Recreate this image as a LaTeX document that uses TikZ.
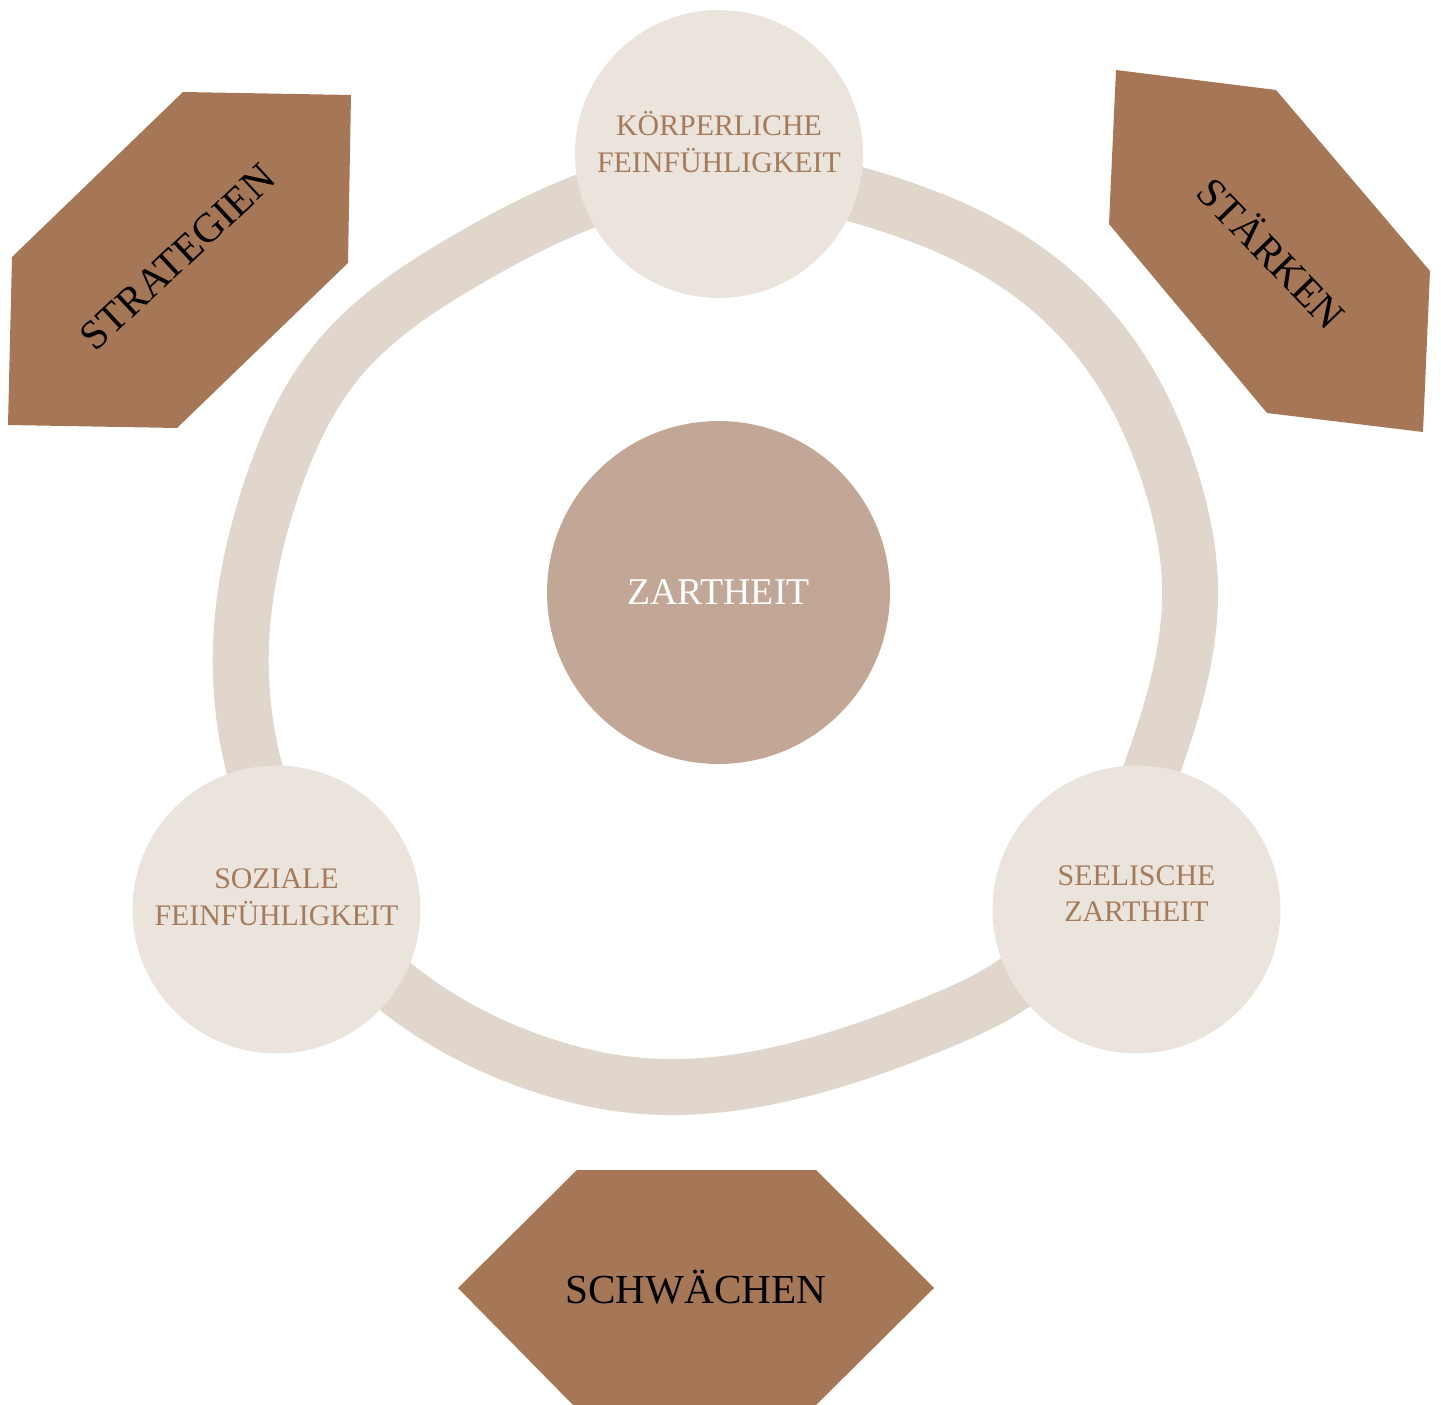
\documentclass[tikz,border=0pt]{standalone}
\usepackage{fontspec}
\setmainfont{Liberation Serif}
\usetikzlibrary{calc,hobby}

\definecolor{braun}{HTML}{A57757}
\definecolor{ringfarbe}{HTML}{E1D6CC}
\definecolor{hellbeige}{HTML}{EAE4DD}
\definecolor{mittelton}{HTML}{C2A796}
\definecolor{schriftbraun}{HTML}{A67B5B}

\tikzset{
  kreis/.style={circle, fill=hellbeige, minimum size=5.76cm, inner sep=0pt},
  kreistext/.style={text=schriftbraun, align=center, font=\fontsize{17}{20.9}\selectfont},
  feldtext/.style={text=black, inner sep=0pt, font=\fontsize{23.5}{28}\selectfont},
}

\begin{document}
\begin{tikzpicture}[x=0.02cm, y=-0.02cm]
	\useasboundingbox (0,0) rectangle (1441,1405);
	% Ring um die Mitte
	\draw[ringfarbe, line width=1.12cm, use Hobby shortcut, closed=true]
		(719,172) .. (583,202) .. (463,262) .. (338,360) .. (270,493) .. (242,627) .. (254,767)
		.. (396,987) .. (533,1062) .. (643,1086) .. (827,1062) .. (943,1020) .. (1010,986)
		.. (1153,766) .. (1190,587) .. (1170,477) .. (1110,354) .. (1020,266) .. (855,194);
	% Mitte
	\node[circle, fill=mittelton, minimum size=6.86cm, inner sep=0pt, text=white,
		font=\fontsize{21.5}{26}\selectfont] (zartheit) at (718.5,592.5) {ZARTHEIT};
	% Drei Kreise auf dem Ring
	\node[kreis] (koerper) at (719,154) {};											% oben
	\node[kreistext] (koerpertext) at ($(koerper)+(0,-12)$) {KÖRPERLICHE\\FEINFÜHLIGKEIT};
	\node[kreis] (sozial) at (276.5,909.5) {};										% links
	\node[kreistext] (sozialtext) at ($(sozial)+(0,-12)$) {SOZIALE\\FEINFÜHLIGKEIT};
	\node[kreis] (seele) at (1136.5,909.5) {};										% rechts
	\node[kreistext] (seeletext) at ($(seele)+(0,-16)$) {SEELISCHE\\ZARTHEIT};
	% Felder
	\fill[braun] (183,92) -- (351,95) -- (348,263) -- (177,428) -- (8,425) -- (12,257) -- cycle;
	\node[feldtext, rotate=43] (strategien) at (178,257) {STRATEGIEN};
	\fill[braun] (1116,70) -- (1276,90) -- (1430,271) -- (1423,432) -- (1267,413) -- (1109,224) -- cycle;
	\node[feldtext, rotate=-46] (staerken) at (1273,252) {STÄRKEN};
	\fill[braun] (577,1170) -- (816,1170) -- (934,1288) -- (816,1405) -- (573,1405) -- (458,1288) -- cycle;
	\node[feldtext] (schwaechen) at (696,1287) {SCHWÄCHEN};
\end{tikzpicture}
\end{document}
